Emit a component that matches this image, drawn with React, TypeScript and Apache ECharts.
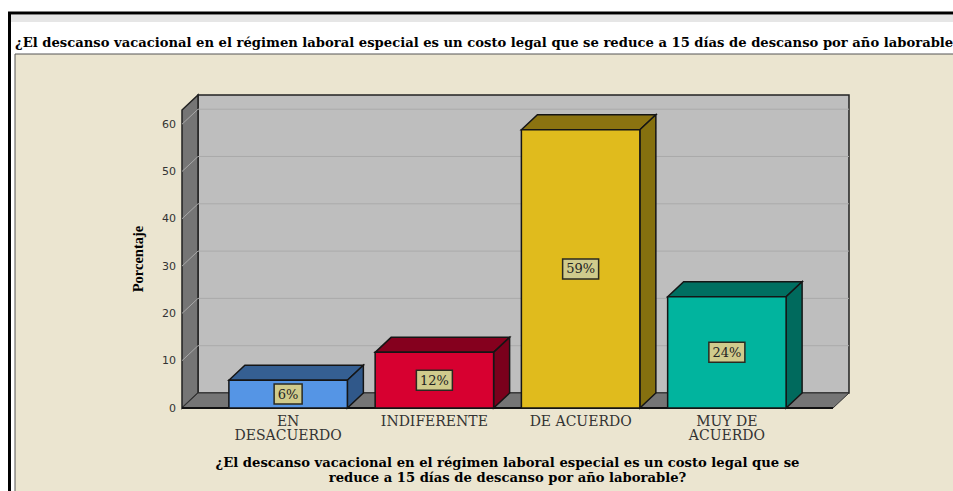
import React, { useEffect, useRef } from "react";
import * as echarts from "echarts";

const categories = ["EN\nDESACUERDO", "INDIFERENTE", "DE ACUERDO", "MUY DE\nACUERDO"];
const values = [5.88, 11.76, 58.82, 23.53];
const valueLabels = ["6%", "12%", "59%", "24%"];
const yTicks = [0, 10, 20, 30, 40, 50, 60];
const frontColors = ["#5595e5", "#d70030", "#e0bb1d", "#01b49e"];
const topColors = ["#355f92", "#85001e", "#8b7310", "#006f61"];
const sideColors = ["#30588a", "#7a001c", "#85700f", "#006a5d"];
const chartTitle = "¿El descanso vacacional en el régimen laboral especial es un costo legal que se reduce a 15 días de descanso por año laborable?";
const xTitle = "¿El descanso vacacional en el régimen laboral especial es un costo legal que se\nreduce a 15 días de descanso por año laborable?";
const yTitle = "Porcentaje";

const SERIF = "'DejaVu Serif'";
const DX = 16;
const DY = 15;
const WALL_OVERHANG_LEFT = 33;
const WALL_OVERHANG_RIGHT = 33;
const BAR_RATIO = 0.81;

export default function App() {
  const ref = useRef<HTMLDivElement>(null);
  useEffect(() => {
    const chart = echarts.init(ref.current!, null, { renderer: "svg" });
    const renderWalls = (_p: any, api: any) => {
      const band = api.size([1, 0])[0];
      const first = api.coord([0, 0]);
      const last = api.coord([categories.length - 1, 0]);
      const xl = first[0] - band / 2 - WALL_OVERHANG_LEFT;
      const xr = last[0] + band / 2 + WALL_OVERHANG_RIGHT;
      const y0 = first[1];
      const yTop = api.coord([0, 63])[1];
      const children: any[] = [
        { type: "rect", shape: { x: xl + DX, y: yTop - DY, width: xr - xl, height: y0 - yTop }, style: { fill: "#bebebe", stroke: "#222", lineWidth: 1.5 } },
        { type: "polygon", shape: { points: [[xl, yTop], [xl + DX, yTop - DY], [xl + DX, y0 - DY], [xl, y0]] }, style: { fill: "#757575", stroke: "#222", lineWidth: 1.5 } },
        { type: "polygon", shape: { points: [[xl, y0], [xl + DX, y0 - DY], [xr + DX, y0 - DY], [xr, y0]] }, style: { fill: "#757575", stroke: "#333", lineWidth: 1 } },
      ];
      yTicks.forEach((t) => {
        if (t === 0) return;
        const y = api.coord([0, t])[1];
        children.push({ type: "line", shape: { x1: xl, y1: y, x2: xl + DX, y2: y - DY }, style: { stroke: "#a8a8a8", lineWidth: 1 } });
        children.push({ type: "line", shape: { x1: xl + DX, y1: y - DY, x2: xr + DX, y2: y - DY }, style: { stroke: "#aaaaaa", lineWidth: 1 } });
      });
      children.push({ type: "line", shape: { x1: xl, y1: y0, x2: xr, y2: y0 }, style: { stroke: "#111", lineWidth: 2 } });
      return { type: "group", children };
    };
    const renderBar = (p: any, api: any) => {
      const i = api.value(0);
      const [cx, yv] = api.coord([i, api.value(1)]);
      const y0 = api.coord([i, 0])[1];
      const w = api.size([1, 0])[0] * BAR_RATIO;
      const l = cx - w / 2;
      const r = cx + w / 2;
      const border = { stroke: "#151515", lineWidth: 1.5 };
      const label = valueLabels[p.dataIndex];
      const boxW = label.length === 2 ? 28 : 36;
      const cy = (yv + y0) / 2;
      return {
        type: "group",
        children: [
          { type: "polygon", shape: { points: [[l, yv], [l + DX, yv - DY], [r + DX, yv - DY], [r, yv]] }, style: { fill: topColors[p.dataIndex], ...border } },
          { type: "polygon", shape: { points: [[r, yv], [r + DX, yv - DY], [r + DX, y0 - DY], [r, y0]] }, style: { fill: sideColors[p.dataIndex], ...border } },
          { type: "rect", shape: { x: l, y: yv, width: w, height: y0 - yv }, style: { fill: frontColors[p.dataIndex], ...border } },
          { type: "rect", shape: { x: cx - boxW / 2, y: cy - 10, width: boxW, height: 20 }, style: { fill: "#d0cb8c", stroke: "#2a2a20", lineWidth: 1.5 } },
          { type: "text", style: { x: cx, y: cy, text: label, align: "center", verticalAlign: "middle", fontFamily: SERIF, fontSize: 13, fill: "#222" } },
        ],
      };
    };
    chart.setOption({
      animation: false,
      title: { text: chartTitle, left: 15, top: 36, padding: 0, textStyle: { fontFamily: SERIF, fontSize: 13.15, fontWeight: "bold", color: "#000" } },
      graphic: [
        { type: "rect", z: -10, silent: true, shape: { x: 15, y: 54, width: 950, height: 450 }, style: { fill: "#ebe5d0", stroke: "#555", lineWidth: 1 } },
        { type: "rect", z: -10, silent: true, shape: { x: 11, y: 15, width: 942, height: 7 }, style: { fill: "#e6e6e6" } },
        { type: "line", z: -9, silent: true, shape: { x1: 8, y1: 13, x2: 953, y2: 13 }, style: { stroke: "#000", lineWidth: 3 } },
        { type: "line", z: -9, silent: true, shape: { x1: 9.5, y1: 12, x2: 9.5, y2: 491 }, style: { stroke: "#000", lineWidth: 3 } },
      ],
      grid: { left: 215, top: 110, width: 585, height: 298, outerBoundsMode: "none" },
      xAxis: {
        type: "category",
        data: categories,
        axisLine: { show: false },
        axisTick: { show: false },
        axisLabel: { fontFamily: SERIF, fontSize: 14, color: "#333", margin: 6, lineHeight: 14, interval: 0 },
        name: xTitle,
        nameLocation: "middle",
        nameGap: 47,
        nameTextStyle: { fontFamily: SERIF, fontSize: 13.15, fontWeight: "bold", color: "#000", lineHeight: 15 },
      },
      yAxis: {
        type: "value",
        min: 0,
        max: 63,
        offset: WALL_OVERHANG_LEFT,
        axisLine: { show: false },
        axisTick: { show: false },
        splitLine: { show: false },
        axisLabel: { customValues: yTicks, fontFamily: "'DejaVu Sans'", fontSize: 11, color: "#333", margin: 6 },
        name: yTitle,
        nameLocation: "middle",
        nameGap: 37,
        nameTextStyle: { fontFamily: "'Liberation Serif'", fontSize: 14.5, fontWeight: "bold", color: "#000" },
      },
      series: [
        { type: "custom", silent: true, clip: false, z: 1, data: [[0, 0]], renderItem: renderWalls },
        { type: "custom", silent: true, clip: false, z: 2, data: values.map((v, i) => [i, v]), renderItem: renderBar },
      ],
    });
    return () => chart.dispose();
  }, []);
  return (
    <div style={{ position: "fixed", left: 0, top: 0, width: 953, height: 491, background: "#fff", overflow: "hidden" }}>
      <div ref={ref} style={{ width: 953, height: 491 }} />
    </div>
  );
}
